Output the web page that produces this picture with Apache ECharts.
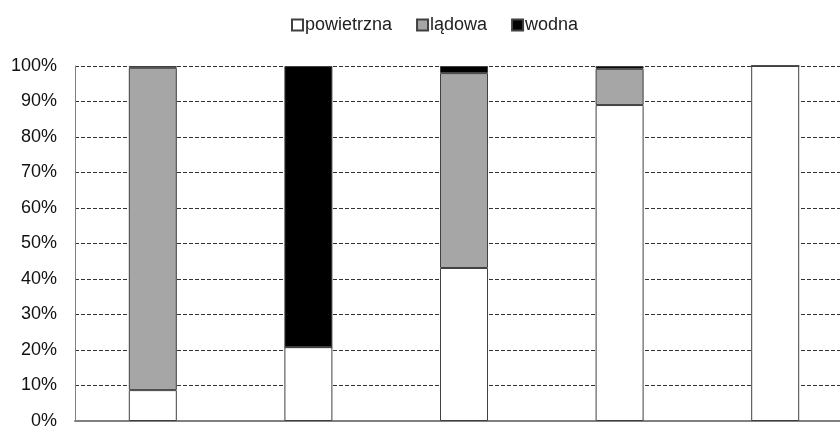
<!DOCTYPE html>
<html>
<head>
<meta charset="utf-8">
<script src="https://cdn.jsdelivr.net/npm/echarts@6/dist/echarts.min.js"></script>
<style>
  html, body { margin: 0; padding: 0; background: #fff; }
  #chart { width: 840px; height: 428px; }
</style>
</head>
<body>
<div id="chart"></div>
<script>
var categories = ['1', '2', '3', '4', '5'];
var powietrzna = [8.7, 20.8, 43.1, 89.0, 100];
var ladowa = [90.8, 0, 54.9, 10.2, 0];
var wodna = [0.5, 79.2, 2.0, 0.8, 0];
var yTicks = { min: 0, max: 100, interval: 10 };

var chart = echarts.init(document.getElementById('chart'));

function barSeries(name, data, color){
    return {
        name: name,
        type: 'bar',
        stack: 'total',
        data: data,
        barWidth: 48,
        itemStyle: {
            color: color,
            borderColor: '#404040',
            borderWidth: 1
        }
    };
}

chart.setOption({
    animation: false,
    textStyle: { fontFamily: 'Liberation Sans, Arial, sans-serif' },
    legend: {
        top: 11,
        left: 286,
        itemWidth: 11,
        itemHeight: 11,
        itemGap: 24,
        icon: 'rect',
        textStyle: { fontSize: 18, color: '#222', padding: [0, 0, 0, -3] },
        data: ['powietrzna', 'lądowa', 'wodna']
    },
    grid: {
        left: 75,
        width: 778,
        top: 66,
        bottom: 7,
        outerBoundsMode: 'none'
    },
    xAxis: {
        type: 'category',
        data: categories,
        axisLine: { lineStyle: { color: '#808080', width: 2 } },
        axisTick: { show: false },
        axisLabel: { show: false }
    },
    yAxis: {
        type: 'value',
        min: yTicks.min,
        max: yTicks.max,
        interval: yTicks.interval,
        axisLine: { show: true, lineStyle: { color: '#808080', width: 1 } },
        axisTick: { show: false },
        axisLabel: {
            formatter: '{value}%',
            fontSize: 18,
            color: '#111',
            margin: 18
        },
        splitLine: {
            lineStyle: { color: '#333', type: [4, 2], width: 1 }
        }
    },
    series: [
        barSeries('powietrzna', powietrzna, '#ffffff'),
        barSeries('lądowa', ladowa, '#a6a6a6'),
        barSeries('wodna', wodna, '#000000')
    ]
});
</script>
</body>
</html>
